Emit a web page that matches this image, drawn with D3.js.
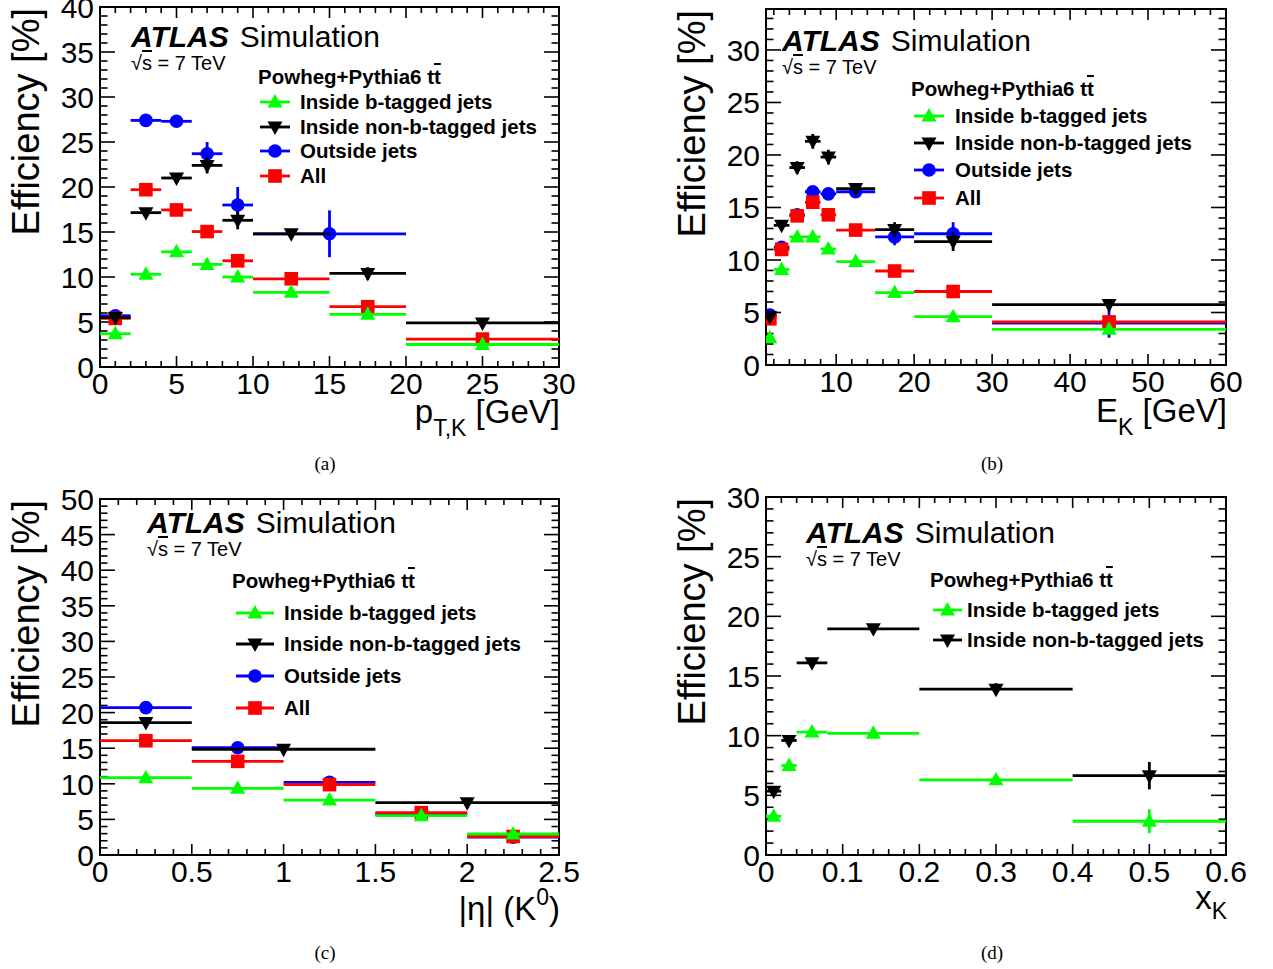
<!DOCTYPE html>
<html><head><meta charset="utf-8">
<script src="https://cdn.jsdelivr.net/npm/d3@7"></script>
<style>
body{margin:0;background:#fff}
text{font-family:"Liberation Sans",Arial,Helvetica,sans-serif;fill:#000}
</style>
</head><body>
<svg id="chart" width="1273" height="969"></svg>
<script>
// ---------------- DATA ----------------
// Panel (a): p_T,K [GeV]
const aEdges      = [0,2,4,6,8,10,15,20,30];
const aEdgesBlue  = [0,2,4,6,8,10,20];
const aGreen      = [3.7,10.3,12.8,11.4,10.0,8.3,5.85,2.5];
const aGreenErr   = [0.3,0.3,0.3,0.3,0.4,0.3,0.3,0.2];
const aBlack      = [5.5,17.15,21.0,22.4,16.3,14.8,10.4,4.9];
const aBlackErr   = [0.3,0.4,0.5,0.9,1.0,0.5,0.7,0.3];
const aBlue       = [5.7,27.4,27.3,23.7,18.0,14.8];
const aBlueErr    = [0.4,0.5,0.6,1.3,2.0,2.6];
const aRed        = [5.4,19.7,17.45,15.05,11.8,9.8,6.7,3.1];
const aRedErr     = [0.2,0.3,0.3,0.3,0.4,0.3,0.3,0.2];

// Panel (b): E_K [GeV]
const bEdges      = [1,2,4,6,8,10,15,20,30,60];
const bGreen      = [2.6,9.1,12.2,12.2,11.05,9.85,6.9,4.6,3.4];
const bGreenErr   = [0.3,0.4,0.4,0.4,0.4,0.3,0.3,0.3,0.3];
const bBlack      = [4.6,13.3,18.8,21.3,19.8,16.8,12.9,11.75,5.75];
const bBlackErr   = [0.4,0.5,0.6,0.7,0.7,0.4,0.7,0.9,0.3];
const bBlue       = [4.75,11.2,14.3,16.5,16.3,16.5,12.2,12.5,4.0];
const bBlueErr    = [0.3,0.4,0.4,0.5,0.5,0.5,0.8,1.1,1.4];
const bRed        = [4.4,11.0,14.2,15.5,14.3,12.85,8.95,7.0,4.1];
const bRedErr     = [0.2,0.3,0.3,0.3,0.3,0.3,0.3,0.3,0.3];

// Panel (c): |eta| (K0)
const cEdges      = [0,0.5,1,1.5,2,2.5];
const cEdgesBlack = [0,0.5,1.5,2.5];
const cGreen      = [10.86,9.36,7.72,5.53,2.95];
const cBlack      = [18.6,14.85,7.35];
const cBlue       = [20.7,15.07,10.2,5.76,2.5];
const cRed        = [16.05,13.15,9.88,5.95,2.6];
const cGreenErr   = [0.2,0.2,0.2,0.2,0.3];
const cBlackErr   = [0.4,0.3,0.3];
const cBlueErr    = [0.4,0.4,0.4,0.3,0.3];
const cRedErr     = [0.2,0.2,0.2,0.2,0.2];

// Panel (d): x_K
const dEdges      = [0,0.02,0.04,0.08,0.2,0.4,0.6];
const dBlack      = [5.35,9.6,16.1,18.95,13.9,6.65];
const dBlackErr   = [0.4,0.4,0.3,0.3,0.5,1.15];
const dGreen      = [3.25,7.5,10.3,10.2,6.3,2.83];
const dGreenErr   = [0.3,0.3,0.3,0.2,0.3,1.0];

// Labels
const legendHeader = "Powheg+Pythia6 t";
const seriesNames  = ["Inside b-tagged jets","Inside non-b-tagged jets","Outside jets","All"];
const captions     = ["(a)","(b)","(c)","(d)"];

// ---------------- DRAWING ----------------
const svg = d3.select("#chart");
const COL = {green:"#00ff00", black:"#000000", blue:"#0000ff", red:"#ff0000"};
const MARK = {green:"tri", black:"tridown", blue:"circle", red:"square"};

function marker(g, type, x, y, color){
  if(type==="circle") g.append("circle").attr("cx",x).attr("cy",y).attr("r",6.8).attr("fill",color);
  else if(type==="square") g.append("rect").attr("x",x-6.8).attr("y",y-6.8).attr("width",13.6).attr("height",13.6).attr("fill",color);
  else if(type==="tri") g.append("path").attr("d",`M${x},${y-8}L${x+7.5},${y+5.5}L${x-7.5},${y+5.5}Z`).attr("fill",color);
  else g.append("path").attr("d",`M${x},${y+8}L${x+7.5},${y-5.5}L${x-7.5},${y-5.5}Z`).attr("fill",color);
}

function tickVals(d0,d1,step){
  const out=[]; const k0=Math.ceil(d0/step-1e-9), k1=Math.floor(d1/step+1e-9);
  for(let k=k0;k<=k1;k++) out.push(+(k*step).toFixed(6));
  return out;
}

function panel(cfg){
  const g = svg.append("g");
  const x = d3.scaleLinear().domain(cfg.xdom).range([cfg.L,cfg.R]);
  const y = d3.scaleLinear().domain(cfg.ydom).range([cfg.B,cfg.T]);
  // frame
  g.append("rect").attr("x",cfg.L).attr("y",cfg.T).attr("width",cfg.R-cfg.L).attr("height",cfg.B-cfg.T)
    .attr("fill","none").attr("stroke","#000").attr("stroke-width",2);
  // x ticks
  const xMaj = tickVals(cfg.xdom[0],cfg.xdom[1],cfg.xMajor);
  const xMin = tickVals(cfg.xdom[0],cfg.xdom[1],cfg.xMinor);
  xMin.forEach(v=>{
    const big = xMaj.some(m=>Math.abs(m-v)<1e-9);
    const len = big?11:6;
    g.append("line").attr("x1",x(v)).attr("x2",x(v)).attr("y1",cfg.B).attr("y2",cfg.B-len).attr("stroke","#000").attr("stroke-width",1.6);
    g.append("line").attr("x1",x(v)).attr("x2",x(v)).attr("y1",cfg.T).attr("y2",cfg.T+len).attr("stroke","#000").attr("stroke-width",1.6);
  });
  xMaj.forEach(v=>{
    g.append("text").attr("x",x(v)).attr("y",cfg.B+27).attr("text-anchor","middle").attr("font-size",30).text(String(v));
  });
  // y ticks
  const yMaj = tickVals(cfg.ydom[0],cfg.ydom[1],cfg.yMajor);
  const yMin = tickVals(cfg.ydom[0],cfg.ydom[1],cfg.yMinor);
  yMin.forEach(v=>{
    const big = yMaj.some(m=>Math.abs(m-v)<1e-9);
    const len = big?15:7.5;
    g.append("line").attr("x1",cfg.L).attr("x2",cfg.L+len).attr("y1",y(v)).attr("y2",y(v)).attr("stroke","#000").attr("stroke-width",1.6);
    g.append("line").attr("x1",cfg.R).attr("x2",cfg.R-len).attr("y1",y(v)).attr("y2",y(v)).attr("stroke","#000").attr("stroke-width",1.6);
  });
  yMaj.forEach(v=>{
    g.append("text").attr("x",cfg.L-6).attr("y",y(v)+11).attr("text-anchor","end").attr("font-size",30).text(String(v));
  });
  // y title
  g.append("text").attr("transform",`translate(${cfg.L-61},${cfg.T+1}) rotate(-90)`)
    .attr("text-anchor","end").attr("font-size",38).text("Efficiency [%]");
  // x title
  const xt = g.append("text").attr("x",cfg.R+1).attr("y",cfg.B+cfg.xtOff).attr("text-anchor","end").attr("font-size",33);
  cfg.xTitle(xt);
  // caption
  svg.append("text").attr("x",cfg.capX).attr("y",cfg.capY).attr("text-anchor","middle")
    .style("font-family","'Liberation Serif','Times New Roman',serif").attr("font-size",19).text(cfg.caption);

  // series
  const plot = g.append("g");
  const clipId = "clip"+cfg.caption.replace(/\W/g,"");
  svg.append("clipPath").attr("id",clipId).append("rect").attr("x",cfg.L).attr("y",cfg.T).attr("width",cfg.R-cfg.L).attr("height",cfg.B-cfg.T);
  plot.attr("clip-path",`url(#${clipId})`);
  cfg.series.forEach(s=>{
    const sg = plot.append("g");
    s.vals.forEach((v,i)=>{
      const lo=s.edges[i], hi=s.edges[i+1], c=(lo+hi)/2;
      sg.append("line").attr("x1",x(lo)).attr("x2",x(hi)).attr("y1",y(v)).attr("y2",y(v)).attr("stroke",COL[s.c]).attr("stroke-width",2.8);
      const e = s.err? s.err[i]:0;
      if(e>0) sg.append("line").attr("x1",x(c)).attr("x2",x(c)).attr("y1",y(v-e)).attr("y2",y(v+e)).attr("stroke",COL[s.c]).attr("stroke-width",2.8);
      marker(sg, MARK[s.c], x(c), y(v), COL[s.c]);
    });
  });

  // ATLAS label
  const at = g.append("text").attr("x",cfg.atlas[0]).attr("y",cfg.atlas[1]).attr("font-size",30);
  at.append("tspan").attr("font-weight","bold").attr("font-style","italic").text("ATLAS");
  at.append("tspan").attr("dx",11).text("Simulation");
  const rs = g.append("text").attr("x",cfg.atlas[0]).attr("y",cfg.atlas[1]+23).attr("font-size",20);
  rs.append("tspan").text("\u221A");
  rs.append("tspan").style("text-decoration","overline").text("s");
  rs.append("tspan").text(" = 7 TeV");

  // legend
  const lg = g.append("g");
  const ht = lg.append("text").attr("x",cfg.leg.hx).attr("y",cfg.leg.hy+7).attr("font-size",20.5).attr("font-weight","bold");
  ht.append("tspan").text(legendHeader);
  ht.append("tspan").style("text-decoration","overline").text("t");
  cfg.leg.items.forEach((it,i)=>{
    const yy = cfg.leg.ys[i];
    lg.append("line").attr("x1",cfg.leg.lx0).attr("x2",cfg.leg.lx1).attr("y1",yy).attr("y2",yy).attr("stroke",COL[it]).attr("stroke-width",2.8);
    marker(lg, MARK[it], (cfg.leg.lx0+cfg.leg.lx1)/2, yy, COL[it]);
    lg.append("text").attr("x",cfg.leg.tx).attr("y",yy+7).attr("font-size",20.5).attr("font-weight","bold")
      .attr("textLength",cfg.leg.tl?undefined:null)
      .text(seriesNames[["green","black","blue","red"].indexOf(it)]);
  });
}

panel({L:100,R:559,T:7,B:367,xdom:[0,30],ydom:[0,40],xMajor:5,xMinor:1,yMajor:5,yMinor:1,xtOff:56,
  xTitle:t=>{t.append("tspan").text("p");t.append("tspan").attr("font-size",23).attr("dy",13).text("T,K");t.append("tspan").attr("dy",-13).text(" [GeV]");},
  caption:captions[0],capX:325,capY:470,
  atlas:[131,47],
  leg:{hx:258,hy:77,ys:[102,127,151,176],lx0:260,lx1:290,tx:300,items:["green","black","blue","red"]},
  series:[{c:"blue",edges:aEdgesBlue,vals:aBlue,err:aBlueErr},{c:"red",edges:aEdges,vals:aRed,err:aRedErr},
          {c:"green",edges:aEdges,vals:aGreen,err:aGreenErr},{c:"black",edges:aEdges,vals:aBlack,err:aBlackErr}]});

panel({L:766,R:1226,T:9,B:365,xdom:[1,60],ydom:[0,33.9],xMajor:10,xMinor:2,yMajor:5,yMinor:1,xtOff:57,
  xTitle:t=>{t.append("tspan").text("E");t.append("tspan").attr("font-size",23).attr("dy",13).text("K");t.append("tspan").attr("dy",-13).text(" [GeV]");},
  caption:captions[1],capX:992,capY:470,
  atlas:[782,51],
  leg:{hx:911,hy:89,ys:[116,143,170,198],lx0:914,lx1:944,tx:955,items:["green","black","blue","red"]},
  series:[{c:"blue",edges:bEdges,vals:bBlue,err:bBlueErr},{c:"red",edges:bEdges,vals:bRed,err:bRedErr},
          {c:"green",edges:bEdges,vals:bGreen,err:bGreenErr},{c:"black",edges:bEdges,vals:bBlack,err:bBlackErr}]});

panel({L:100,R:559,T:499,B:855,xdom:[0,2.5],ydom:[0,50],xMajor:0.5,xMinor:0.1,yMajor:5,yMinor:1,xtOff:65,
  xTitle:t=>{t.append("tspan").text("|\u03B7| (K");t.append("tspan").attr("font-size",23).attr("dy",-15).text("0");t.append("tspan").attr("dy",15).text(")");},
  caption:captions[2],capX:325,capY:959,
  atlas:[147,533],
  leg:{hx:232,hy:581,ys:[613,644,676,708],lx0:236,lx1:274,tx:284,items:["green","black","blue","red"]},
  series:[{c:"blue",edges:cEdges,vals:cBlue,err:cBlueErr},{c:"black",edges:cEdgesBlack,vals:cBlack,err:cBlackErr},
          {c:"red",edges:cEdges,vals:cRed,err:cRedErr},{c:"green",edges:cEdges,vals:cGreen,err:cGreenErr}]});

panel({L:766,R:1226,T:497,B:855,xdom:[0,0.6],ydom:[0,30],xMajor:0.1,xMinor:0.02,yMajor:5,yMinor:1,xtOff:54,
  xTitle:t=>{t.append("tspan").text("x");t.append("tspan").attr("font-size",23).attr("dy",10).text("K");},
  caption:captions[3],capX:992,capY:959,
  atlas:[806,543],
  leg:{hx:930,hy:580,ys:[610,640],lx0:933,lx1:962,tx:967,items:["green","black"]},
  series:[{c:"green",edges:dEdges,vals:dGreen,err:dGreenErr},{c:"black",edges:dEdges,vals:dBlack,err:dBlackErr}]});
</script>
</body></html>
